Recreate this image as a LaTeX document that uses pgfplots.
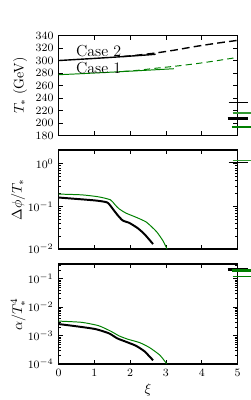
\documentclass[border=0pt]{standalone}
\usepackage{pgfplots}
\pgfplotsset{compat=1.18}
\definecolor{mplgreen}{RGB}{0,128,0}
\begin{document}
\begin{tikzpicture}
\useasboundingbox (-41.8pt,-25.7pt) rectangle (136.8pt,260pt);
\pgfplotsset{
  every axis/.append style={
    scale only axis, width=127.9pt,
    xmin=0, xmax=5, xtick={0,1,2,3,4,5},
    clip=false,
    axis line style={line width=0.9pt},
    tick style={line width=0.5pt, black},
    major tick length=3pt, minor tick length=1.6pt,
    tick label style={font=\footnotesize},
  }
}
% ---------- top panel ----------
\begin{axis}[
  at={(0pt,163.2pt)}, anchor=south west, height=71.4pt,
  ymin=180, ymax=340, ytick={180,200,...,340},
  xticklabels={},
  ylabel={$T_*$ (GeV)},
  ylabel style={at={(axis description cs:-0.215,0.5)}, anchor=center},
]
\addplot[black, line width=1pt, smooth, tension=0.4, dash pattern=on 5.5pt off 3pt] coordinates {
 (1.8,306.4) (2.2,308.6) (2.7,312) (3.2,316.3) (3.8,322.3) (4.4,327.6) (5,332.3)};
\addplot[black, line width=1pt, smooth, tension=0.4] coordinates {
 (0,300) (0.5,301.7) (1,303.4) (1.5,305.2) (2,307.1) (2.5,309.1) (2.71,310.1)};
\addplot[mplgreen, line width=0.7pt, smooth, tension=0.4, dash pattern=on 4.5pt off 3pt] coordinates {
 (1.8,282.6) (2.2,284.3) (2.7,287.6) (3.22,290.7) (3.83,294.9) (4.4,299.6) (5,305.1)};
\addplot[mplgreen, line width=0.7pt, smooth, tension=0.4] coordinates {
 (0,277.3) (0.5,278.6) (1,280) (1.5,281.5) (2,283) (2.5,284.6) (3,286.2) (3.22,286.9)};
\addplot[black, line width=0.8pt] coordinates {(4.75,233) (5.29,233)};
\addplot[mplgreen!80, line width=0.9pt] coordinates {(4.86,216) (5.40,216)};
\addplot[black, line width=2.2pt] coordinates {(4.72,207.5) (5.29,207.5)};
\addplot[mplgreen, line width=1.8pt] coordinates {(4.83,193.5) (5.43,193.5)};
\node[font=\fontsize{11.4}{13}\selectfont] at (axis cs:1.12,314.7) {Case 2};
\node[font=\fontsize{11.4}{13}\selectfont] at (axis cs:1.12,287.5) {Case 1};
\end{axis}
% ---------- middle panel ----------
\begin{axis}[
  at={(0pt,82.1pt)}, anchor=south west, height=70.7pt,
  ymode=log, ymin=1e-2, ymax=2.1,
  xticklabels={},
  ylabel={$\Delta\phi/T_*$},
  ylabel style={at={(axis description cs:-0.225,0.5)}, anchor=center},
]
\addplot[black, line width=1.4pt, smooth, tension=0.35] coordinates {
 (0,0.162) (0.46,0.151) (1.03,0.138) (1.36,0.124) (1.50,0.091) (1.64,0.064)
 (1.79,0.047) (1.98,0.041) (2.21,0.031) (2.40,0.0224) (2.64,0.0131)};
\addplot[mplgreen, line width=0.7pt, smooth, tension=0.35] coordinates {
 (0,0.195) (0.65,0.187) (1.12,0.168) (1.45,0.143) (1.58,0.109) (1.69,0.088)
 (1.88,0.070) (2.16,0.056) (2.45,0.043) (2.73,0.026) (2.92,0.0155) (3.03,0.0100)};
\addplot[black, line width=1pt] coordinates {(4.75,1.07) (5.29,1.07)};
\addplot[mplgreen!80, line width=1pt] coordinates {(4.86,1.18) (5.40,1.18)};
\end{axis}
% ---------- bottom panel ----------
\begin{axis}[
  at={(0pt,0pt)}, anchor=south west, height=71.4pt,
  ymode=log, ymin=1e-4, ymax=0.33,
  xlabel={$\xi$},
  xlabel style={at={(axis description cs:0.5,-0.26)}, anchor=center},
  ylabel={$\alpha/T_*^4$},
  ylabel style={at={(axis description cs:-0.225,0.5)}, anchor=center},
]
\addplot[black, line width=1.4pt, smooth, tension=0.35] coordinates {
 (0,0.00255) (0.46,0.00216) (1.03,0.0017) (1.41,0.0012) (1.64,0.0008)
 (1.88,0.00061) (2.16,0.00044) (2.40,0.00028) (2.64,0.000135)};
\addplot[mplgreen, line width=0.7pt, smooth, tension=0.35] coordinates {
 (0,0.00324) (0.65,0.00293) (1.12,0.00223) (1.45,0.00145) (1.69,0.00098)
 (1.93,0.00075) (2.26,0.00057) (2.54,0.00038) (2.83,0.000205) (3.02,0.000102)};
\addplot[black, line width=2pt] coordinates {(4.72,0.209) (5.29,0.209)};
\addplot[mplgreen, line width=1.8pt] coordinates {(4.83,0.197) (5.43,0.197)};
\addplot[mplgreen, line width=0.9pt] coordinates {(4.86,0.12) (5.40,0.12)};
\end{axis}
\end{tikzpicture}
\end{document}
